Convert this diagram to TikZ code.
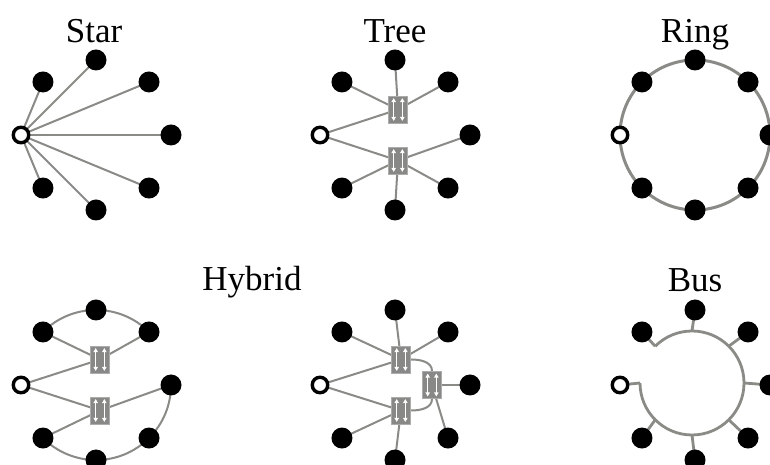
\documentclass[tikz,border=0pt]{standalone}
\usepackage{fontspec}
\setmainfont{Liberation Serif}
\usetikzlibrary{calc,arrows.meta}
\pgfdeclarelayer{bg}
\pgfsetlayers{bg,main}
\definecolor{lg}{RGB}{138,138,134}
\definecolor{boxg}{RGB}{136,136,134}
\tikzset{
  dot/.style={circle, fill=black, draw=none, minimum size=21pt, inner sep=0pt},
  opendot/.style={circle, fill=white, draw=black, line width=3.4pt, minimum size=15.5pt, inner sep=0pt},
  edge/.style={draw=lg, line width=2pt},
  ringline/.style={draw=lg, line width=3pt},
  busline/.style={draw=lg, line width=2.8pt},
  title/.style={font=\fontsize{35}{40}\selectfont, anchor=base, inner sep=0pt},
  switchbox/.style={rectangle, fill=boxg, draw=boxg!70!white, line width=0.8pt,
    minimum width=19pt, minimum height=27pt, inner sep=0pt,
    path picture={
      \foreach \dx in {-4.3,4.3}{
        \draw[white, line width=1.3pt, -{Triangle[length=4pt,width=4.4pt]}]
          ([xshift=\dx pt,yshift=-0.6pt]path picture bounding box.center) -- ++(0,12pt);
        \draw[white, line width=1.3pt, -{Triangle[length=4pt,width=4.4pt]}]
          ([xshift=\dx pt,yshift=0.6pt]path picture bounding box.center) -- ++(0,-12pt);
      }
    }},
}
\begin{document}
\begin{tikzpicture}[x=1pt,y=1pt]
\useasboundingbox (0,0) rectangle (770,465);

% titles
\node[title] (tstar) at (94,422) {Star};
\node[title] (ttree) at (395,422) {Tree};
\node[title] (tring) at (695,422) {Ring};
\node[title] (thyb) at (252,174) {Hybrid};
\node[title] (tbus) at (695,173) {Bus};

% ---------- Star ----------
\begin{scope}[shift={(96,330)}]
  \foreach \i in {0,1,2,3,5,6,7} \node[dot] (s\i) at (\i*45:75) {};
  \node[opendot] (s4) at (180:75) {};
\end{scope}
\begin{pgfonlayer}{bg}
  \foreach \i in {0,1,2,3,5,6,7} \draw[edge] (s4.center) -- (s\i.center);
\end{pgfonlayer}

% ---------- Tree ----------
\begin{scope}[shift={(395,330)}]
  \foreach \i in {0,1,2,3,5,6,7} \node[dot] (t\i) at (\i*45:75) {};
  \node[opendot] (t4) at (180:75) {};
  \node[switchbox] (tU) at (3,25.5) {};
  \node[switchbox] (tD) at (3,-25.5) {};
\end{scope}
\begin{pgfonlayer}{bg}
  \foreach \i in {1,2,3,4} \draw[edge] (tU.center) -- (t\i.center);
  \foreach \i in {0,4,5,6,7} \draw[edge] (tD.center) -- (t\i.center);
\end{pgfonlayer}

% ---------- Ring ----------
\begin{scope}[shift={(695,330)}]
  \foreach \i in {0,1,2,3,5,6,7} \node[dot] (r\i) at (\i*45:75) {};
  \node[opendot] (r4) at (180:75) {};
\end{scope}
\begin{pgfonlayer}{bg}
  \draw[ringline] (r0.center) arc[start angle=0, end angle=360, radius=75];
\end{pgfonlayer}

% ---------- Hybrid (left) ----------
\begin{scope}[shift={(96,80)}]
  \foreach \i in {0,1,2,3,5,6,7} \node[dot] (h\i) at (\i*45:75) {};
  \node[opendot] (h4) at (180:75) {};
  \node[switchbox] (hU) at (4,25.5) {};
  \node[switchbox] (hD) at (4,-25.5) {};
\end{scope}
\begin{pgfonlayer}{bg}
  \foreach \i in {1,3,4} \draw[edge] (hU.center) -- (h\i.center);
  \foreach \i in {0,4,5} \draw[edge] (hD.center) -- (h\i.center);
  \draw[edge] (h3.center) arc[start angle=135, end angle=45, radius=75];
  \draw[edge] (h0.center) arc[start angle=0, end angle=-135, radius=75];
\end{pgfonlayer}

% ---------- Hybrid (right) ----------
\begin{scope}[shift={(395,80)}]
  \foreach \i in {0,1,2,3,5,6,7} \node[dot] (g\i) at (\i*45:75) {};
  \node[opendot] (g4) at (180:75) {};
  \node[switchbox] (gU) at (6,25.5) {};
  \node[switchbox] (gD) at (6,-25.5) {};
  \node[switchbox] (gC) at (37,0) {};
\end{scope}
\begin{pgfonlayer}{bg}
  \foreach \i in {1,2,3,4} \draw[edge] (gU.center) -- (g\i.center);
  \foreach \i in {4,5,6} \draw[edge] (gD.center) -- (g\i.center);
  \foreach \i in {0,7} \draw[edge] (gC.center) -- (g\i.center);
  \draw[edge] (gU.east) to[out=0, in=90] (gC.north);
  \draw[edge] (gD.east) to[out=0, in=-90] (gC.south);
\end{pgfonlayer}

% ---------- Bus ----------
\begin{scope}[shift={(695,80)}]
  \foreach \i in {0,1,2,3,5,6,7} \node[dot] (b\i) at (\i*45:75) {};
  \node[opendot] (b4) at (180:75) {};
\end{scope}
\coordinate (bc) at (692,82);
\begin{pgfonlayer}{bg}
  \foreach \i in {0,...,7} \draw[busline] (b\i.center) -- ($(bc)+(\i*45:52)$);
  \draw[busline] ($(bc)+(180:52)$) arc[start angle=180, end angle=495, radius=52];
\end{pgfonlayer}
\end{tikzpicture}
\end{document}
